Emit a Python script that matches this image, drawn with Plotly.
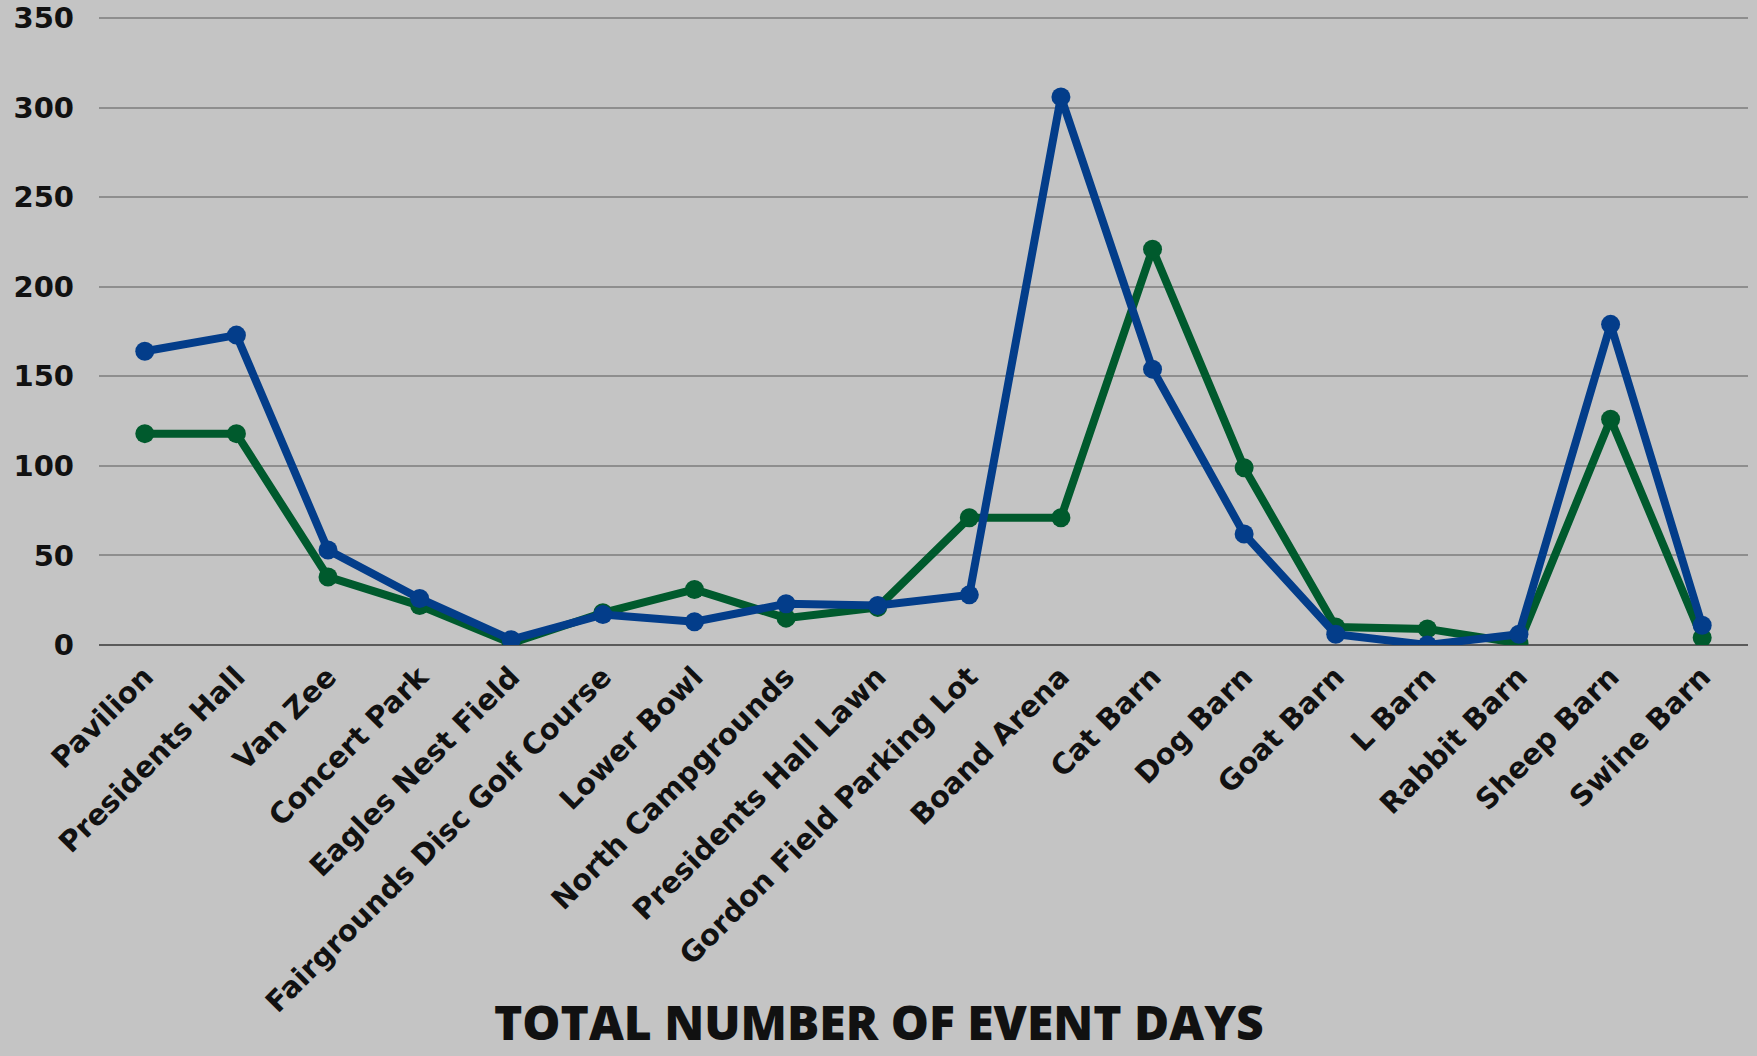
import plotly.graph_objects as go

venues = ["Pavilion", "Presidents Hall", "Van Zee", "Concert Park", "Eagles Nest Field",
          "Fairgrounds Disc Golf Course", "Lower Bowl", "North Campgrounds",
          "Presidents Hall Lawn", "Gordon Field Parking Lot", "Boand Arena", "Cat Barn",
          "Dog Barn", "Goat Barn", "L Barn", "Rabbit Barn", "Sheep Barn", "Swine Barn"]
green_values = [118, 118, 38, 22, 1, 18, 31, 15, 21, 71, 71, 221, 99, 10, 9, 1, 126, 4]
blue_values = [164, 173, 53, 26, 3, 17, 13, 23, 22, 28, 306, 154, 62, 6, 0, 6, 179, 11]
y_ticks = [0, 50, 100, 150, 200, 250, 300, 350]
title_text = "TOTAL NUMBER OF EVENT DAYS"

GREEN = "#005A2D"
BLUE = "#033D8A"
BG = "#C4C4C4"
FONT = "DejaVu Sans"

fig = go.Figure()
fig.add_trace(go.Scatter(x=venues, y=green_values, mode="lines+markers",
                         line=dict(color=GREEN, width=8),
                         marker=dict(color=GREEN, size=19), showlegend=False))
fig.add_trace(go.Scatter(x=venues, y=blue_values, mode="lines+markers",
                         line=dict(color=BLUE, width=8),
                         marker=dict(color=BLUE, size=19), showlegend=False))

fig.update_layout(
    width=1757, height=1056,
    margin=dict(l=99, r=9, t=17, b=411, pad=0),
    paper_bgcolor=BG, plot_bgcolor=BG,
    font=dict(family=FONT, color="#111111"),
    xaxis=dict(range=[-0.5, len(venues) - 0.5], tickangle=-45, showgrid=False,
               zeroline=False, showline=False, ticks="", ticklabelstandoff=8,
               automargin=False,
               tickfont=dict(family=FONT, size=29, weight="bold", color="#111111")),
    yaxis=dict(range=[0, 350.6], tickvals=y_ticks, showgrid=True, gridcolor="#8E8E8E",
               gridwidth=2, zeroline=True, zerolinecolor="#5A5A5A", zerolinewidth=2,
               showline=False, ticks="", ticklabelstandoff=24, automargin=False,
               tickfont=dict(family=FONT, size=29, weight="bold", color="#111111")),
    annotations=[dict(text=title_text, xref="paper", yref="paper", x=0.4728, y=-0.600,
                      xanchor="center", yanchor="middle", showarrow=False,
                      font=dict(family="Open Sans", size=48, weight=800, color="#111111"))],
)

fig.write_html("out.html", config={"displayModeBar": False},
               post_script="document.body.style.margin='0';")
